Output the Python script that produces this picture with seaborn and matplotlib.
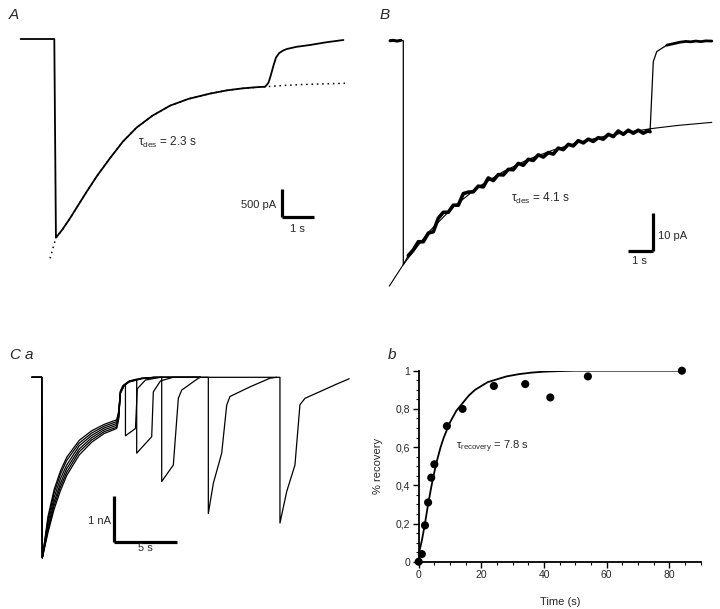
import numpy as np
import pandas as pd
import matplotlib
matplotlib.use("Agg")
import matplotlib.pyplot as plt
from matplotlib.ticker import MultipleLocator
import seaborn as sns

# ---------------- data ----------------
# Panel A : whole-cell current (pA) vs time (s)
a_trace_t = [-1.03, 0.0, 0.05, 0.25, 0.48, 0.75, 0.99, 1.3, 1.70, 2.1, 2.52, 3.0, 3.54, 4.1,
             4.76, 5.3, 5.78, 6.2, 6.45, 6.55, 6.62, 6.7, 6.78, 6.88, 7.0, 7.11, 7.4, 7.82, 8.3, 8.84]
a_trace_i = [0, 0, -3549, -3400, -3202, -2950, -2727, -2450, -2131, -1830, -1580, -1370, -1190, -1070,
             -975, -915, -880, -860, -852, -780, -650, -480, -330, -250, -205, -179, -140, -107, -60, -18]
a_fit_t = [-0.13, 0.05, 0.25, 0.48, 0.75, 0.99, 1.3, 1.70, 2.1, 2.52, 3.0, 3.54, 4.1, 4.76, 5.3,
           5.78, 6.45, 7.0, 7.5, 8.0, 8.89]
a_fit_i = [-3917, -3549, -3400, -3202, -2950, -2727, -2450, -2131, -1830, -1580, -1370, -1190, -1070, -975, -915,
           -880, -852, -830, -815, -805, -791]

# Panel B : current (pA) vs time (s)
b_trace_t = [-0.53, -0.4, -0.25, -0.1, 0.0, 0.0,
             0.2, 0.4, 0.6, 0.8, 1.0, 1.2, 1.4, 1.6, 1.8, 2.0, 2.2, 2.4, 2.6, 2.8, 3.0, 3.2, 3.4, 3.6, 3.8,
             4.0, 4.2, 4.4, 4.6, 4.8, 5.0, 5.2, 5.4, 5.6, 5.8, 6.0, 6.2, 6.4, 6.6, 6.8, 7.0, 7.2, 7.4, 7.6,
             7.8, 8.0, 8.2, 8.4, 8.6, 8.8, 9.0, 9.2, 9.4, 9.6, 9.8, 9.87,
             10.0, 10.14, 10.54, 11.07, 11.3, 11.5, 11.7, 11.9, 12.1, 12.34]
b_trace_i = [0.0, 0.1, -0.1, 0.1, 0.0, -60.1,
             -57.6, -56.1, -53.9, -53.9, -51.6, -51.2, -47.6, -46.0, -46.0, -44.1, -44.1, -41.0, -40.6, -40.5,
             -39.0, -39.2, -36.8, -37.5, -35.9, -36.0, -34.5, -34.6, -32.9, -33.4, -31.8, -32.1, -30.6, -31.2,
             -30.0, -30.4, -28.8, -29.2, -27.8, -28.2, -26.8, -27.4, -26.4, -27.0, -26.0, -26.4, -25.1, -25.7,
             -24.2, -25.1, -24.0, -24.8, -24.0, -24.8, -24.1, -24.4,
             -5.6, -2.9, -1.2, -0.4, -0.2, -0.3, -0.1, -0.25, -0.05, -0.1]
b_fit_t = [-0.56, 0, 1, 2, 3, 4, 5, 6, 7, 8, 9, 10, 11, 12.34]
b_fit_i = [-65.8, -60.0, -51.4, -44.6, -39.2, -35.1, -31.8, -29.3, -27.3, -25.7, -24.5, -23.5, -22.7, -21.9]

# Panel Ca : paired applications, current (nA) vs time (s)
ca1_t = [-0.8, 0, 0.05, 0.5, 1, 1.5, 2, 3, 4, 5, 6, 6.15, 6.3, 6.5, 6.7, 6.7, 7.5, 7.65, 8.3, 9.5, 12.7]
ca1_i = [0, 0, -3.95, -3.05, -2.45, -2.05, -1.75, -1.38, -1.17, -1.03, -0.93, -0.75, -0.3, -0.18, -0.16,
         -1.28, -1.12, -0.25, -0.06, 0, 0]
ca2_t = [-0.8, 0, 0.05, 0.5, 1, 1.5, 2, 3, 4, 5, 6, 6.15, 6.3, 6.6, 7.0, 7.6, 7.6, 8.8, 8.93, 9.5, 10.5, 12.7]
ca2_i = [0, 0, -3.95, -3.12, -2.52, -2.12, -1.82, -1.44, -1.22, -1.07, -0.97, -0.8, -0.3, -0.16, -0.08, -0.04,
         -1.66, -1.30, -0.32, -0.08, 0, 0]
ca3_t = [-0.8, 0, 0.05, 0.5, 1, 1.5, 2, 3, 4, 5, 6, 6.15, 6.3, 6.6, 7.0, 8.0, 9.6, 9.6, 10.53, 10.93, 11.2,
         12.53, 12.7]
ca3_i = [0, 0, -3.95, -3.2, -2.62, -2.22, -1.92, -1.5, -1.27, -1.11, -1.01, -0.85, -0.32, -0.17, -0.09, -0.02,
         0, -2.28, -1.92, -0.46, -0.28, -0.02, 0]
ca4_t = [-0.8, 0, 0.05, 0.5, 1, 1.5, 2, 3, 4, 5, 6, 6.15, 6.3, 6.6, 7.0, 8.0, 9.0, 13.33, 13.33, 13.73, 14.4,
         14.8, 15.06, 16.66, 18.26, 18.8]
ca4_i = [0, 0, -3.95, -3.28, -2.72, -2.32, -2.0, -1.57, -1.32, -1.15, -1.05, -0.88, -0.33, -0.17, -0.09, -0.02,
         0, 0, -2.98, -2.32, -1.66, -0.61, -0.42, -0.21, -0.02, 0]
ca5_t = [-0.8, 0, 0.05, 0.5, 1, 1.5, 2, 3, 4, 5, 6, 6.15, 6.3, 6.6, 7.0, 8.0, 9.0, 19.06, 19.06, 19.6, 20.26,
         20.66, 21.06, 22.53, 23.5, 24.53, 24.6]
ca5_i = [0, 0, -3.95, -3.35, -2.8, -2.4, -2.08, -1.63, -1.37, -1.19, -1.09, -0.9, -0.34, -0.18, -0.1, -0.03,
         0, 0, -3.19, -2.5, -1.92, -0.6, -0.46, -0.28, -0.16, -0.04, -0.03]
ca6_t = [-0.8, 0, 0.05, 0.5, 1, 1.5, 2, 3, 4, 5, 6, 6.15, 6.3, 6.6, 7.0, 8.0, 9.0, 12.7]
ca6_i = [0, 0, -3.95, -3.4, -2.88, -2.48, -2.15, -1.7, -1.42, -1.23, -1.12, -0.92, -0.35, -0.18, -0.1, -0.03,
         0, 0]

# Panel b : recovery from desensitization
rec_time = [0, 1, 2, 3, 4, 5, 9, 14, 24, 34, 42, 54, 84]
rec_frac = [0.0, 0.04, 0.19, 0.31, 0.44, 0.51, 0.71, 0.80, 0.92, 0.93, 0.86, 0.97, 1.0]
rec_fit_time = [0, 1, 2, 3, 4, 5, 6, 7, 8, 9, 10, 12, 14, 16, 18, 20, 22, 25, 28, 32, 36, 40, 45, 50, 60, 84]
rec_fit_frac = [0.04, 0.11, 0.2, 0.3, 0.39, 0.47, 0.54, 0.6, 0.65, 0.69, 0.73, 0.79, 0.83, 0.87, 0.9, 0.92,
                0.94, 0.955, 0.97, 0.982, 0.99, 0.995, 0.998, 1.0, 1.0, 1.0]
b_xticks = [0, 20, 40, 60, 80]
b_yticks = [0, 0.2, 0.4, 0.6, 0.8, 1]
b_yticklabels = ["0", "0,2", "0,4", "0,6", "0,8", "1"]

# ---------------- style ----------------
sns.set_theme(style="ticks")
plt.rcParams["font.family"] = ["Liberation Sans", "DejaVu Sans"]
plt.rcParams["mathtext.fontset"] = "custom"
plt.rcParams["mathtext.rm"] = "Liberation Sans"
plt.rcParams["mathtext.it"] = "Liberation Sans:italic"

W, H = 720, 609
fig = plt.figure(figsize=(W / 100, H / 100), dpi=100)
fig.patch.set_facecolor("white")


def trace_axes(box, origin, scale):
    x0, y0, x1, y1 = box
    ax = fig.add_axes([x0 / W, 1 - y1 / H, (x1 - x0) / W, (y1 - y0) / H])
    ox, oy = origin
    sx, sy = scale
    ax.set_xlim((x0 - ox) / sx, (x1 - ox) / sx)
    ax.set_ylim(-(y1 - oy) / sy, -(y0 - oy) / sy)
    ax.axis("off")

    def to_data(px, py):
        return (px - ox) / sx, -(py - oy) / sy
    return ax, to_data


def ftext(px, py, s, **kw):
    fig.text(px / W, 1 - py / H, s, **kw)


def scalebar(ax, corner, dx, dy):
    cx, cy = corner
    ax.plot([cx, cx], [cy, cy + dy], color="black", lw=2.3, solid_capstyle="butt", clip_on=False)
    ax.plot([cx + dx, cx], [cy, cy], color="black", lw=2.3, solid_capstyle="butt", clip_on=False)


def line(ax, x, y, **kw):
    sns.lineplot(x=x, y=y, sort=False, estimator=None, ax=ax, legend=False, **kw)


# ---------------- Panel A ----------------
axA, dA = trace_axes((5, 20, 355, 275), (54.3, 39.0), (32.7, 28.0 / 500))
line(axA, a_fit_t, a_fit_i, color="black", lw=1.1, linestyle=(0, (1, 2.5)))
line(axA, a_trace_t, a_trace_i, color="black", lw=1.3)
scalebar(axA, dA(281.7, 217.3), 1.0, 500)
ftext(276, 205, "500 pA", ha="right", va="center", fontsize=8)
ftext(297, 229, "1 s", ha="center", va="center", fontsize=8)
ftext(138, 142, r"$\mathrm{\tau_{des}}$ = 2.3 s", ha="left", va="center", fontsize=8.5)
ftext(9, 15, "A", ha="left", va="center", fontsize=11, style="italic")

# ---------------- Panel B ----------------
axB, dB = trace_axes((375, 20, 715, 300), (403.3, 40.7), (25.0, 3.73))
dfB = pd.DataFrame({"t": b_trace_t, "i": b_trace_i})
line(axB, b_fit_t, b_fit_i, color="black", lw=0.8)
line(axB, dfB["t"], dfB["i"], color="black", lw=0.9)
noisy = dfB[(dfB["t"] > 0) & (dfB["i"] < -20)]
line(axB, noisy["t"], noisy["i"], color="black", lw=2.6)
base = dfB[dfB["t"] < 0]
line(axB, base["t"], base["i"], color="black", lw=2.2)
plateau = dfB[dfB["t"] > 10.5]
line(axB, plateau["t"], plateau["i"], color="black", lw=2.0)
scalebar(axB, dB(653.3, 250.7), -1.0, 10)
ftext(658, 236, "10 pA", ha="left", va="center", fontsize=8)
ftext(639, 261, "1 s", ha="center", va="center", fontsize=8)
ftext(511, 198, r"$\mathrm{\tau_{des}}$ = 4.1 s", ha="left", va="center", fontsize=8.5)
ftext(380, 15, "B", ha="left", va="center", fontsize=11, style="italic")

# ---------------- Panel Ca ----------------
axC, dC = trace_axes((5, 365, 360, 575), (41.7, 377.3), (12.5, 45.7))
for tt, ii in [(ca1_t, ca1_i), (ca2_t, ca2_i), (ca3_t, ca3_i), (ca4_t, ca4_i), (ca5_t, ca5_i), (ca6_t, ca6_i)]:
    line(axC, tt, ii, color="black", lw=0.9)
scalebar(axC, dC(114.3, 541.7), 5.0, 1.0)
ftext(111, 521, "1 nA", ha="right", va="center", fontsize=8)
ftext(145, 548, "5 s", ha="center", va="center", fontsize=8)
ftext(9, 355, "C", ha="left", va="center", fontsize=11, style="italic")
ftext(25, 355, "a", ha="left", va="center", fontsize=11, style="italic")

# ---------------- Panel b ----------------
x0, x1, ytop, ybot = 418.7, 700.7, 370.7, 561.7
axb = fig.add_axes([x0 / W, 1 - ybot / H, (x1 - x0) / W, (ybot - ytop) / H])
sns.lineplot(x=rec_fit_time, y=rec_fit_frac, sort=False, estimator=None, color="black", lw=1.3, ax=axb)
sns.scatterplot(x=rec_time, y=rec_frac, color="black", s=34, edgecolor="none", ax=axb, clip_on=False, zorder=3)
axb.set_xlim(0, 90)
axb.set_ylim(0, 1)
axb.set_xticks(b_xticks)
axb.set_yticks(b_yticks)
axb.set_yticklabels(b_yticklabels)
axb.xaxis.set_minor_locator(MultipleLocator(5))
axb.yaxis.set_minor_locator(MultipleLocator(0.05))
axb.tick_params(which="major", direction="out", length=4, width=1.0, labelsize=7.5, pad=2, color="black")
axb.tick_params(which="minor", direction="out", length=2.5, width=0.8, color="black")
sns.despine(ax=axb)
for sp in ["left", "bottom"]:
    axb.spines[sp].set_linewidth(1.3)
    axb.spines[sp].set_color("black")
axb.set_facecolor("none")
axb.set_xlabel("Time (s)", fontsize=8)
axb.set_ylabel("% recovery", fontsize=8)
axb.xaxis.set_label_coords((560 - x0) / (x1 - x0), -(597 - ybot) / (ybot - ytop))
axb.yaxis.set_label_coords((383 - x0) / (x1 - x0), 0.5)
axb.text(12, 0.6, r"$\mathrm{\tau_{recovery}}$ = 7.8 s", ha="left", va="center", fontsize=8)
ftext(388, 355, "b", ha="left", va="center", fontsize=11, style="italic")

fig.savefig("out.png", dpi=100, facecolor="white")
